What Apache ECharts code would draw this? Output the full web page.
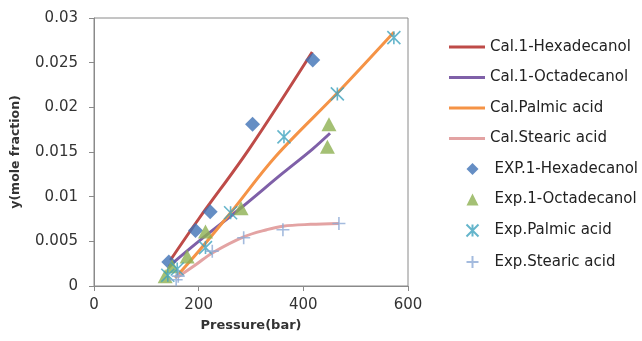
<!DOCTYPE html>
<html><head><meta charset="utf-8">
<script src="https://cdn.jsdelivr.net/npm/echarts@6/dist/echarts.min.js"></script>
<style>html,body{margin:0;padding:0;background:#fff;}#c{width:642px;height:341px;}</style>
</head><body><div id="c"></div>
<script>
// Calculated curves
const calHexP = [146, 200, 296, 417];
const calHexY = [0.0029, 0.0075, 0.0153, 0.0262];
const calOctP = [143, 200, 280, 360, 417, 451];
const calOctY = [0.0022, 0.0050, 0.0087, 0.0126, 0.0153, 0.0171];
const calPalP = [155, 200, 261, 347, 465, 573];
const calPalY = [0.0009, 0.0039, 0.0082, 0.0145, 0.0216, 0.0284];
const calSteP = [160, 195, 226, 286, 330, 361, 414, 468];
const calSteY = [0.0010, 0.0024, 0.0037, 0.0055, 0.0063, 0.0067, 0.0069, 0.0070];
// Experimental points
const expHexP = [143, 194, 222, 303, 418];
const expHexY = [0.0027, 0.0062, 0.0083, 0.0181, 0.0253];
const expOctP = [136, 149, 178, 213, 281, 446, 449];
const expOctY = [0.0011, 0.0022, 0.0033, 0.0061, 0.0087, 0.0156, 0.0181];
const expPalP = [141, 159, 213, 261, 363, 465, 573];
const expPalY = [0.0012, 0.0019, 0.0043, 0.0082, 0.0167, 0.0215, 0.0278];
const expSteP = [157, 161, 226, 286, 361, 468];
const expSteY = [0.0007, 0.0011, 0.0039, 0.0054, 0.0063, 0.0070];
// Names and titles
const calNames = ['Cal.1-Hexadecanol','Cal.1-Octadecanol','Cal.Palmic acid','Cal.Stearic acid'];
const expNames = ['EXP.1-Hexadecanol','Exp.1-Octadecanol','Exp.Palmic acid','Exp.Stearic acid'];
const xTitle = 'Pressure(bar)';
const yTitle = 'y(mole fraction)';

const zip = (a, b) => a.map((v, i) => [v, b[i]]);
const FONT = 'DejaVu Sans';
const lineS = (name, P, Y, color) => ({
  name, type: 'line', smooth: 0.35, symbol: 'none', data: zip(P, Y),
  lineStyle: {color, width: 3}, itemStyle: {color}, z: 2
});
const star = 'path://M0,0 L10,10 M10,0 L0,10 M5,0 L5,10';
const plus = 'path://M5,0 L5,10 M0,5 L10,5';
const axisCommon = {
  axisLine: {show: true, lineStyle: {color: '#8a8a8a'}},
  axisTick: {show: true, inside: false, length: 5, lineStyle: {color: '#8a8a8a'}},
  splitLine: {show: false}
};
const legendText = {fontFamily: FONT, fontSize: 15, color: '#222', lineHeight: 16};

const chart = echarts.init(document.getElementById('c'));
chart.setOption({
  animation: false,
  textStyle: {fontFamily: FONT},
  grid: {left: 94, right: 234, top: 18, bottom: 55, show: true, borderColor: '#8a8a8a', borderWidth: 1},
  xAxis: Object.assign({
    type: 'value', min: 0, max: 600, interval: 200,
    name: xTitle, nameLocation: 'middle', nameGap: 33,
    nameTextStyle: {fontFamily: FONT, fontWeight: 'bold', fontSize: 13, color: '#333'},
    axisLabel: {fontFamily: FONT, fontSize: 15, color: '#333', margin: 12}
  }, axisCommon),
  yAxis: Object.assign({
    type: 'value', min: 0, max: 0.03, interval: 0.005,
    name: yTitle, nameLocation: 'middle', nameGap: 72, nameRotate: 90,
    nameTextStyle: {fontFamily: FONT, fontWeight: 'bold', fontSize: 12.5, color: '#333'},
    axisLabel: {fontFamily: FONT, fontSize: 15, color: '#333', margin: 16}
  }, axisCommon),
  legend: [
    {orient: 'vertical', left: 449, top: 39, padding: 0, icon: 'rect', itemWidth: 36, itemHeight: 3,
      itemGap: 14.5, textStyle: legendText, data: calNames},
    {orient: 'vertical', left: 464, top: 161, padding: 0, itemWidth: 12, itemHeight: 12,
      itemGap: 14.5, textStyle: Object.assign({padding: [0, 0, 0, 11]}, legendText), data: expNames}
  ],
  series: [
    lineS(calNames[0], calHexP, calHexY, '#BE4B48'),
    lineS(calNames[1], calOctP, calOctY, '#7F60A8'),
    lineS(calNames[2], calPalP, calPalY, '#F59346'),
    lineS(calNames[3], calSteP, calSteY, '#E3A3A3'),
    {name: expNames[0], type: 'scatter', symbol: 'diamond', symbolSize: 15, data: zip(expHexP, expHexY),
      itemStyle: {color: '#3F72B5'}, z: 3},
    {name: expNames[1], type: 'scatter', symbol: 'triangle', symbolSize: [15, 14], data: zip(expOctP, expOctY),
      itemStyle: {color: '#8DB051'}, z: 3},
    {name: expNames[2], type: 'scatter', symbol: star, symbolSize: 13, data: zip(expPalP, expPalY),
      itemStyle: {color: 'none', borderColor: '#3FA3BE', borderWidth: 1.6}, z: 4},
    {name: expNames[3], type: 'scatter', symbol: plus, symbolSize: 13, data: zip(expSteP, expSteY),
      itemStyle: {color: 'none', borderColor: '#8DAAD6', borderWidth: 1.6}, z: 4}
  ]
});
</script></body></html>
